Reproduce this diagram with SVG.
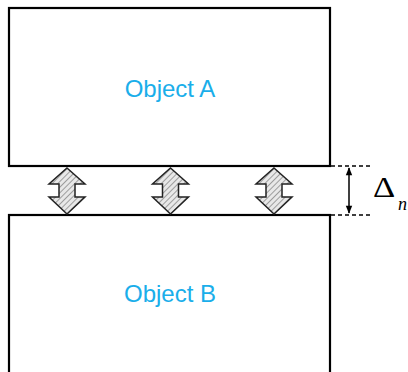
<svg xmlns="http://www.w3.org/2000/svg" width="408" height="372" viewBox="0 0 408 372">
<defs>
<pattern id="hatch" width="4" height="4" patternUnits="userSpaceOnUse" patternTransform="rotate(45)">
<rect width="4" height="4" fill="#e8e8e8"/>
<line x1="0" y1="0" x2="0" y2="4" stroke="#8a8a8a" stroke-width="1.6"/>
</pattern>
<marker id="ah" viewBox="0 0 10 10" refX="9" refY="5" markerWidth="9" markerHeight="8" orient="auto-start-reverse" markerUnits="userSpaceOnUse">
<path d="M0,1 L10,5 L0,9 Z" fill="#000"/>
</marker>
<path id="dbl" d="M0,0 L18,16 L8,16 L8,29 L18,29 L0,46 L-18,29 L-8,29 L-8,16 L-18,16 Z"/>
</defs>
<style>
.box{fill:#fff;stroke:#000;stroke-width:2.2}
.lbl{font-family:"Liberation Sans",Arial,sans-serif;font-size:24px;fill:#1aaeea;text-anchor:middle}
.dash{stroke:#000;stroke-width:1.5;stroke-dasharray:4,3;fill:none}
.arr{fill:url(#hatch);stroke:#222;stroke-width:1.5;stroke-linejoin:miter}
</style>
<g id="objectA">
<rect class="box" x="9" y="8" width="321" height="158"/>
<text class="lbl" x="170" y="97">Object A</text>
</g>
<g id="objectB">
<rect class="box" x="9" y="215" width="321" height="160"/>
<text class="lbl" x="170" y="302">Object B</text>
</g>
<g id="connectors">
<use href="#dbl" class="arr" x="67" y="168"/>
<use href="#dbl" class="arr" x="170.5" y="168"/>
<use href="#dbl" class="arr" x="274" y="168"/>
<line class="dash" x1="331" y1="166" x2="370" y2="166"/>
<line class="dash" x1="331" y1="215" x2="370" y2="215"/>
<line x1="349" y1="168" x2="349" y2="213" stroke="#000" stroke-width="1.5" marker-start="url(#ah)" marker-end="url(#ah)"/>
</g>
<text transform="translate(373,197) scale(1.15,1)" x="0" y="0" font-family="Liberation Serif,'Times New Roman',serif" font-size="30" fill="#000">Δ</text>
<text x="398" y="210" font-family="Liberation Serif,'Times New Roman',serif" font-size="18" font-style="italic" fill="#000">n</text>
</svg>
